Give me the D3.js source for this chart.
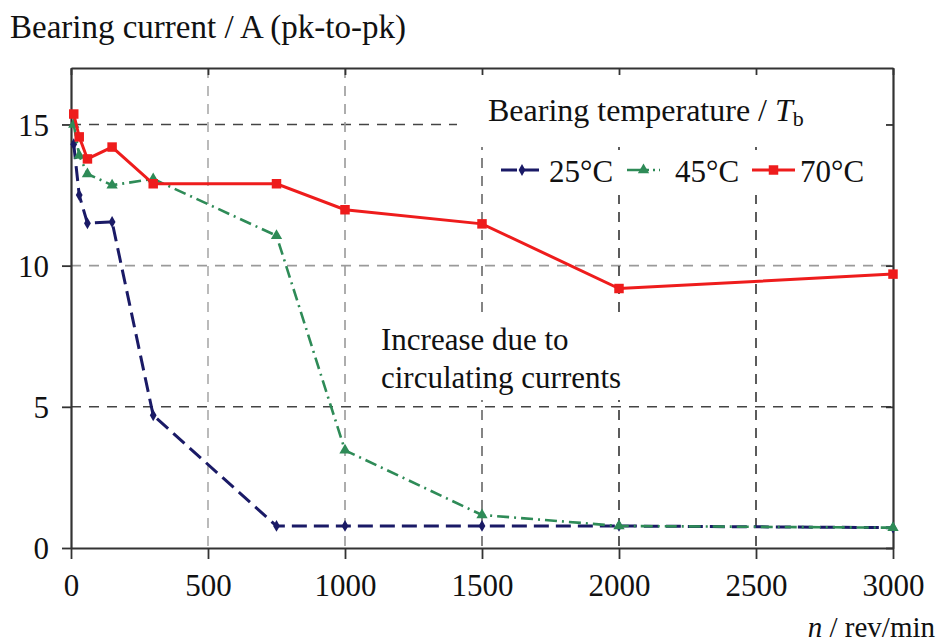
<!DOCTYPE html>
<html>
<head>
<meta charset="utf-8">
<script src="https://cdn.jsdelivr.net/npm/d3@7"></script>
<style>
  html, body { margin: 0; padding: 0; background: #fff; }
  svg { display: block; font-family: "Liberation Serif", "DejaVu Serif", serif; }
</style>
</head>
<body>
<svg id="chart" width="941" height="642"></svg>
<script>
// ---- data ----
const speeds = [10, 30, 60, 150, 300, 750, 1000, 1500, 2000, 3000];
const current25 = [14.3, 12.5, 11.5, 11.55, 4.7, 0.78, 0.78, 0.78, 0.78, 0.72];
const current45 = [15.0, 13.9, 13.25, 12.85, 13.07, 11.06, 3.46, 1.17, 0.78, 0.72];
const current70 = [15.37, 14.56, 13.78, 14.2, 12.9, 12.9, 11.98, 11.48, 9.19, 9.7];
const seriesNames = ["25°C", "45°C", "70°C"];
const xTicks = [0, 500, 1000, 1500, 2000, 2500, 3000];
const yTicks = [0, 5, 10, 15];
const yTitle = "Bearing current / A (pk-to-pk)";
const xTitle = "rev/min";
const legendTitle = "Bearing temperature / ";
const noteLines = ["Increase due to", "circulating currents"];

// ---- layout ----
const svg = d3.select("#chart");
const m = { left: 71, right: 893, top: 68, bottom: 548 };
const x = d3.scaleLinear().domain([0, 3000]).range([m.left, m.right]);
const y = d3.scaleLinear().domain([0, 17]).range([m.bottom, m.top]);

const axisColor = "#333";

// grid lines
const yGridColor = { 5: "#444", 10: "#9a9a9a", 15: "#444" };
const xGridColor = { 500: "#aaa", 1000: "#999", 1500: "#666", 2000: "#333", 2500: "#333" };

const grid = svg.append("g");
grid.selectAll("line.hy").data(yTicks.filter(d => d > 0)).join("line")
  .attr("x1", m.left).attr("x2", m.right)
  .attr("y1", d => y(d)).attr("y2", d => y(d))
  .attr("stroke", d => yGridColor[d]).attr("stroke-width", 1.6)
  .attr("stroke-dasharray", "10,8");
grid.selectAll("line.vx").data(xTicks.filter(d => d > 0 && d < 3000)).join("line")
  .attr("x1", d => x(d)).attr("x2", d => x(d))
  .attr("y1", m.top).attr("y2", m.bottom)
  .attr("stroke", d => xGridColor[d]).attr("stroke-width", 1.6)
  .attr("stroke-dasharray", "10,8");

// legend background masks
svg.append("rect").attr("x", 457).attr("y", m.top + 1).attr("width", m.right - 458).attr("height", 78).attr("fill", "#fff");
svg.append("rect").attr("x", 492).attr("y", 150).attr("width", 385).attr("height", 45).attr("fill", "#fff");
// annotation background
svg.append("rect").attr("x", 375).attr("y", 318).attr("width", 272).attr("height", 82).attr("fill", "#fff");

// axes
const gx = svg.append("g").attr("transform", `translate(0,${m.bottom})`)
  .call(d3.axisBottom(x).tickValues(xTicks).tickSize(11).tickSizeOuter(0).tickPadding(15).tickFormat(d3.format("d")));
const gy = svg.append("g").attr("transform", `translate(${m.left},0)`)
  .call(d3.axisLeft(y).tickValues(yTicks).tickSize(9).tickSizeOuter(0).tickPadding(13));
const gt = svg.append("g").attr("transform", `translate(0,${m.top})`)
  .call(d3.axisTop(x).tickValues(xTicks).tickSize(-7).tickSizeOuter(0).tickFormat(""));
const gr = svg.append("g").attr("transform", `translate(${m.right},0)`)
  .call(d3.axisRight(y).tickValues(yTicks).tickSize(-7).tickSizeOuter(0).tickFormat(""));
[gx, gy, gt, gr].forEach(g => {
  g.select(".domain").attr("stroke", axisColor).attr("stroke-width", 2.2);
  g.selectAll(".tick line").attr("stroke", axisColor).attr("stroke-width", 1.8);
  g.selectAll(".tick text").attr("fill", "#111").attr("font-size", 31)
    .attr("font-family", "Liberation Serif, serif");
});
gy.selectAll(".tick text").attr("dy", "0.35em");

// series
const data = [current25, current45, current70].map((vals, i) => ({
  name: seriesNames[i],
  points: speeds.map((s, j) => ({ s, v: vals[j] }))
}));
const styles = [
  { color: "#1a1a66", width: 3, dash: "15,7", marker: "diamond", size: 40 },
  { color: "#2e8b57", width: 2.6, dash: "12,5,2,5", marker: "triangle", size: 55 },
  { color: "#ee1c1c", width: 3, dash: null, marker: "square", size: 90 }
];
const symbolType = { diamond: d3.symbolDiamond, triangle: d3.symbolTriangle, square: d3.symbolSquare };
const line = d3.line().x(d => x(d.s)).y(d => y(d.v));

data.forEach((ser, i) => {
  const st = styles[i];
  const g = svg.append("g");
  g.append("path").datum(ser.points)
    .attr("d", line).attr("fill", "none")
    .attr("stroke", st.color).attr("stroke-width", st.width)
    .attr("stroke-dasharray", st.dash);
  g.selectAll("path.mk").data(ser.points).join("path")
    .attr("class", "mk")
    .attr("transform", d => `translate(${x(d.s)},${y(d.v)})`)
    .attr("d", d3.symbol().type(symbolType[st.marker]).size(st.size))
    .attr("fill", st.color);
});

// axis titles
svg.append("text").attr("x", 10).attr("y", 38).attr("font-size", 33).attr("fill", "#111").text(yTitle);
const xt = svg.append("text").attr("x", 935).attr("y", 637).attr("text-anchor", "end").attr("font-size", 29).attr("fill", "#111");
xt.append("tspan").attr("font-style", "italic").text("n");
xt.append("tspan").text(" / " + xTitle);

// legend
const lt = svg.append("text").attr("x", 488).attr("y", 121).attr("font-size", 32).attr("fill", "#111");
lt.append("tspan").text(legendTitle);
lt.append("tspan").attr("font-style", "italic").text("T");
lt.append("tspan").attr("font-size", 22).attr("dy", 5).text("b");

const legendItems = [
  { x0: 501, x1: 543, tx: 549 },
  { x0: 627, x1: 660, tx: 675 },
  { x0: 752, x1: 795, tx: 800 }
];
const ly = 170;
legendItems.forEach((it, i) => {
  const st = styles[i];
  svg.append("line").attr("x1", it.x0).attr("x2", it.x1).attr("y1", ly).attr("y2", ly)
    .attr("stroke", st.color).attr("stroke-width", st.width)
    .attr("stroke-dasharray", i === 0 ? "16,6" : (i === 1 ? "22,4,2,4" : null));
  svg.append("path").attr("transform", `translate(${(it.x0 + it.x1) / 2},${ly})`)
    .attr("d", d3.symbol().type(symbolType[st.marker]).size(st.size)).attr("fill", st.color);
  svg.append("text").attr("x", it.tx).attr("y", 182).attr("font-size", 31).attr("fill", "#111").text(seriesNames[i]);
});

// annotation
const note = svg.append("text").attr("font-size", 31).attr("fill", "#111");
noteLines.forEach((t, i) => {
  note.append("tspan").attr("x", 381).attr("y", 350 + i * 38).text(t);
});
</script>
</body>
</html>
